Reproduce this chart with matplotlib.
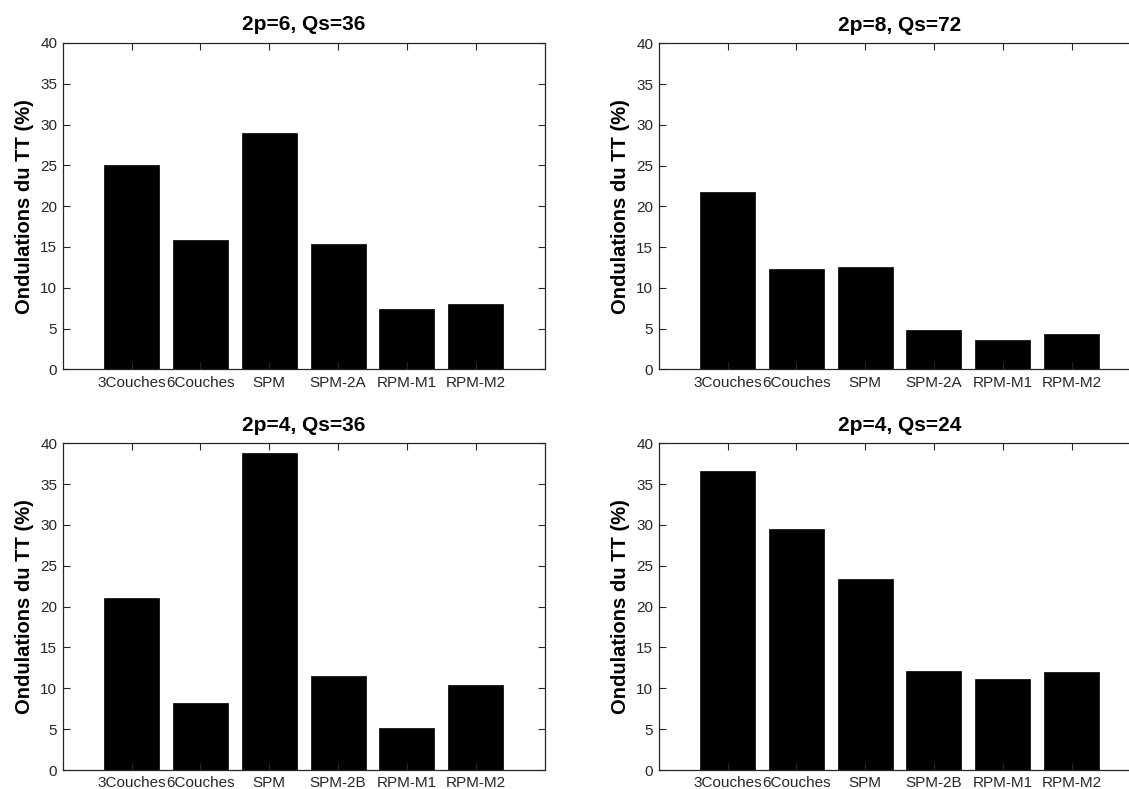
import matplotlib
matplotlib.use("Agg")
import matplotlib.pyplot as plt
import numpy as np

plt.rcParams['font.family'] = ['Liberation Sans', 'DejaVu Sans']

# Torque ripple (%) for each machine configuration
labels_a = ["3Couches", "6Couches", "SPM", "SPM-2A", "RPM-M1", "RPM-M2"]
labels_b = ["3Couches", "6Couches", "SPM", "SPM-2B", "RPM-M1", "RPM-M2"]

ripple_p6_q36 = [25.0, 15.8, 29.0, 15.35, 7.35, 8.0]
ripple_p8_q72 = [21.7, 12.3, 12.5, 4.83, 3.64, 4.3]
ripple_p4_q36 = [21.1, 8.24, 38.8, 11.5, 5.2, 10.4]
ripple_p4_q24 = [36.6, 29.55, 23.4, 12.16, 11.1, 11.96]

titles = ["2p=6, Qs=36", "2p=8, Qs=72", "2p=4, Qs=36", "2p=4, Qs=24"]
panels = [
    (ripple_p6_q36, labels_a),
    (ripple_p8_q72, labels_a),
    (ripple_p4_q36, labels_b),
    (ripple_p4_q24, labels_b),
]

W, H = 1129, 789
fig = plt.figure(figsize=(W / 100, H / 100), dpi=100)

# axes rectangles in pixels: left, top, width, height
rects = [
    (62.8, 43.0, 481.7, 326.3),
    (658.7, 43.3, 481.7, 326.0),
    (62.8, 443.3, 481.7, 326.7),
    (658.7, 443.3, 481.7, 326.7),
]

axis_grey = "#262626"

for (vals, labs), title, (lx, ty, w, h) in zip(panels, titles, rects):
    ax = fig.add_axes([lx / W, 1 - (ty + h) / H, w / W, h / H])
    x = np.arange(1, len(vals) + 1)
    ax.bar(x, vals, width=0.8, color="black", edgecolor="black", linewidth=0.5)
    ax.set_xlim(0, len(vals) + 1)
    ax.set_ylim(0, 40)
    ax.set_xticks(x)
    ax.set_xticklabels(labs)
    ax.set_yticks(np.arange(0, 41, 5))
    ax.tick_params(direction="in", length=5, width=0.8, top=True, right=True,
                   labelsize=11, colors=axis_grey, labelcolor=axis_grey)
    ax.tick_params(axis="x", pad=4.5)
    ax.tick_params(axis="y", pad=4)
    for s in ax.spines.values():
        s.set_color(axis_grey)
        s.set_linewidth(0.9)
    ax.set_title(title, fontsize=15, fontweight="bold", pad=9, color="black")
    ax.set_ylabel("Ondulations du TT (%)", fontsize=14.5, fontweight="bold",
                  color="black")
    ax.yaxis.set_label_coords(-0.06, 0.5)

fig.savefig("out.png", dpi=100, facecolor="white")
